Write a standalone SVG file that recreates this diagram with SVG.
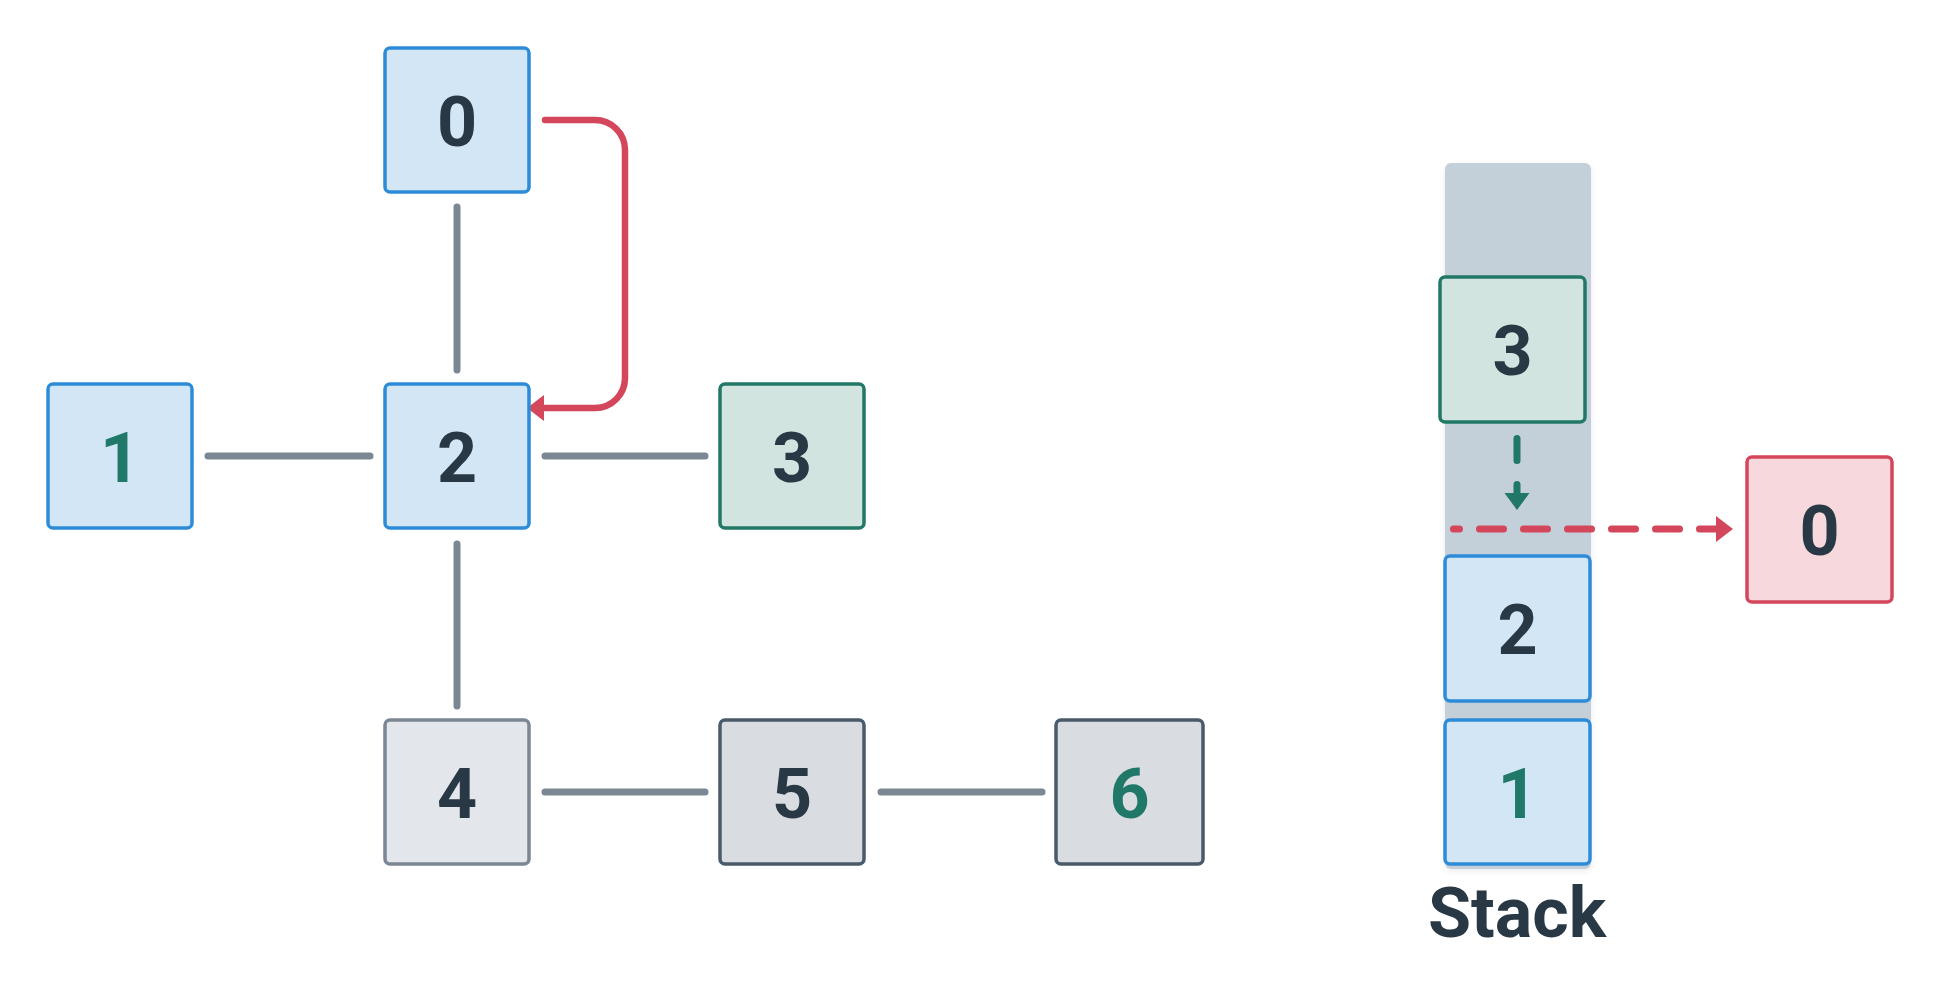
<svg xmlns="http://www.w3.org/2000/svg" width="1941" height="1008" viewBox="0 0 1941 1008">
<style>
.n rect{stroke-width:3.5}
.blue rect{fill:#d3e6f6;stroke:#2e8bd8}
.green rect{fill:#d1e4df;stroke:#217867}
.red rect{fill:#f7d8dd;stroke:#d4465b}
.light rect{fill:#e3e7eb;stroke:#7b8794}
.dark rect{fill:#d9dde1;stroke:#4a5a69}
text{font-family:Roboto,"Liberation Sans",sans-serif;font-weight:700;font-size:70px;text-anchor:middle;fill:#283845}
text.g{fill:#207868}
.edge{stroke:#7b8794;stroke-width:7;stroke-linecap:round;fill:none}
</style>
<defs>
<marker id="ahRed" markerUnits="userSpaceOnUse" markerWidth="20" markerHeight="28" refX="4" refY="13" orient="auto" viewBox="0 0 20 28">
<path d="M0,0 L17,13 L0,26 z" fill="#d4465b"/>
</marker>
<marker id="ahGreen" markerUnits="userSpaceOnUse" markerWidth="20" markerHeight="28" refX="3" refY="12.5" orient="auto" viewBox="0 0 20 28">
<path d="M0,0 L17,12.5 L0,25 z" fill="#217867"/>
</marker>
<filter id="sh" x="-20%" y="-5%" width="140%" height="110%">
<feDropShadow dx="0" dy="2" stdDeviation="3" flood-color="#000" flood-opacity="0.08"/>
</filter>
</defs>
<rect width="1941" height="1008" fill="#ffffff"/>
<g id="stack-bg">
<rect x="1445" y="163" width="146" height="706" rx="6" fill="#c4d0d9" filter="url(#sh)"/>
</g>
<g id="connectors">
<line class="edge" x1="457" y1="207" x2="457" y2="370"/>
<line class="edge" x1="208" y1="456" x2="370" y2="456"/>
<line class="edge" x1="545" y1="456" x2="705" y2="456"/>
<line class="edge" x1="457" y1="544" x2="457" y2="706"/>
<line class="edge" x1="545" y1="792" x2="705" y2="792"/>
<line class="edge" x1="881" y1="792" x2="1042" y2="792"/>
<path d="M545,120 H595 A30,30 0 0 1 625,150 V378 A30,30 0 0 1 595,408 H540" fill="none" stroke="#d4465b" stroke-width="6.5" stroke-linecap="round" marker-end="url(#ahRed)"/>
<path d="M1517,438.5 V496" fill="none" stroke="#217867" stroke-width="7" stroke-linecap="round" stroke-dasharray="22 24" marker-end="url(#ahGreen)"/>
<path d="M1453.5,529 H1720" fill="none" stroke="#d4465b" stroke-width="7" stroke-linecap="round" stroke-dasharray="24 20" stroke-dashoffset="18" marker-end="url(#ahRed)"/>
</g>
<g id="node-0" class="n blue"><rect x="385" y="48" width="144" height="144" rx="5"/><text x="457" y="145.5">0</text></g>
<g id="node-1" class="n blue"><rect x="48" y="384" width="144" height="144" rx="5"/><text class="g" x="120" y="481.5">1</text></g>
<g id="node-2" class="n blue"><rect x="385" y="384" width="144" height="144" rx="5"/><text x="457" y="481.5">2</text></g>
<g id="node-3" class="n green"><rect x="720" y="384" width="144" height="144" rx="5"/><text x="792" y="481.5">3</text></g>
<g id="node-4" class="n light"><rect x="385" y="720" width="144" height="144" rx="5"/><text x="457" y="817.5">4</text></g>
<g id="node-5" class="n dark"><rect x="720" y="720" width="144" height="144" rx="5"/><text x="792" y="817.5">5</text></g>
<g id="node-6" class="n dark"><rect x="1056" y="720" width="147" height="144" rx="5"/><text class="g" x="1129.5" y="817.5">6</text></g>
<g id="stack-3" class="n green"><rect x="1440" y="277" width="145" height="145" rx="5"/><text x="1512.5" y="375">3</text></g>
<g id="stack-2" class="n blue"><rect x="1445" y="556" width="145" height="145" rx="5"/><text x="1517.5" y="654">2</text></g>
<g id="stack-1" class="n blue"><rect x="1445" y="720" width="145" height="144" rx="5"/><text class="g" x="1517.5" y="817.5">1</text></g>
<g id="popped-0" class="n red"><rect x="1747" y="457" width="145" height="145" rx="5"/><text x="1819.5" y="555">0</text></g>
<g id="label-stack"><text x="1517" y="937">Stack</text></g>
</svg>
